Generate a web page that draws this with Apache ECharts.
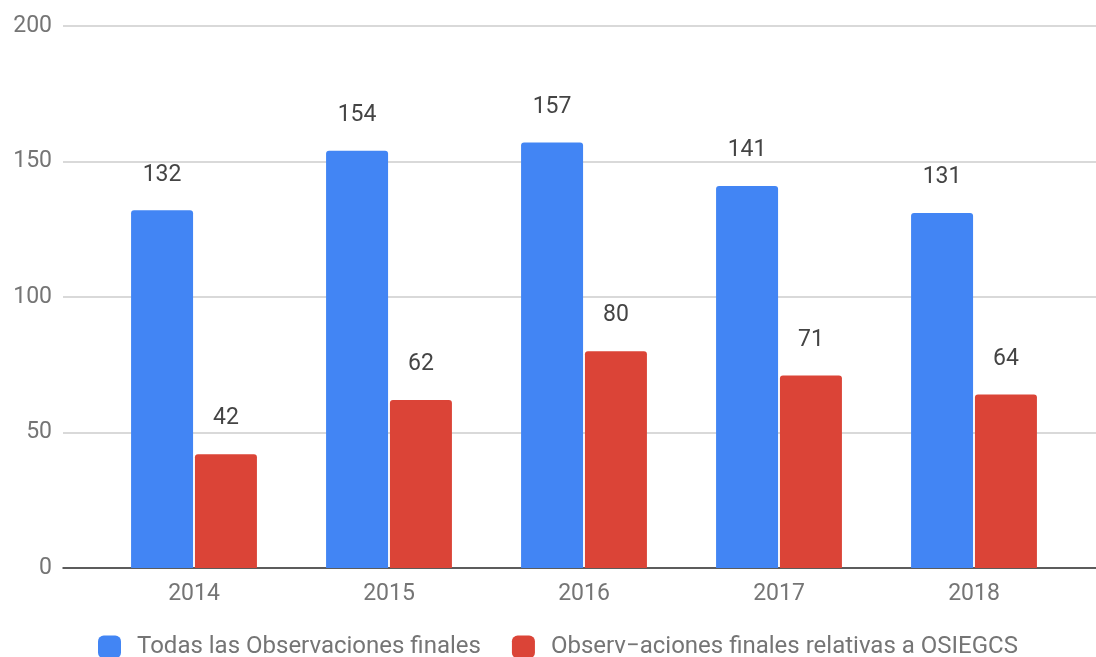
<!DOCTYPE html>
<html>
<head>
<meta charset="utf-8">
<script src="https://cdn.jsdelivr.net/npm/echarts@6/dist/echarts.min.js"></script>
<style>html,body{margin:0;padding:0;background:#fff}#c{width:1096px;height:657px}</style>
</head>
<body>
<div id="c"></div>
<script>
var categories = ['2014', '2015', '2016', '2017', '2018'];
var seriesNames = ['Todas las Observaciones finales', 'Observ\u2212aciones finales relativas a OSIEGCS'];
var todas = [132, 154, 157, 141, 131];
var relativas = [42, 62, 80, 71, 64];
var yTicks = { min: 0, max: 200, interval: 50 };

var chart = echarts.init(document.getElementById('c'), null, { renderer: 'canvas' });
var FONT = 'Roboto';
var labelStyle = {
  show: true, position: 'top', distance: 24,
  color: '#444444', fontFamily: FONT, fontSize: 23
};
chart.setOption({
  animation: false,
  backgroundColor: '#ffffff',
  textStyle: { fontFamily: FONT },
  grid: [
    { left: 63, right: 0, top: 26, bottom: 89 },
    { left: 96.5, right: 24.5, top: 26, bottom: 89 }
  ],
  xAxis: [
    { gridIndex: 0, type: 'value', min: 0, max: 1, show: true,
      axisLine: { show: true, lineStyle: { color: '#333333', width: 1.5 } },
      axisTick: { show: false }, axisLabel: { show: false }, splitLine: { show: false } },
    { gridIndex: 1, type: 'category', data: categories,
      axisLine: { show: false }, axisTick: { show: false },
      axisLabel: { color: '#757575', fontFamily: FONT, fontSize: 23, margin: 15 } }
  ],
  yAxis: [
    { gridIndex: 0, type: 'value', min: yTicks.min, max: yTicks.max, interval: yTicks.interval,
      axisLine: { show: false }, axisTick: { show: false },
      axisLabel: { color: '#757575', fontFamily: FONT, fontSize: 23, margin: 11 },
      splitLine: { lineStyle: { color: '#cccccc', width: 1.5 } } },
    { gridIndex: 1, type: 'value', min: yTicks.min, max: yTicks.max, interval: yTicks.interval, show: false,
      splitLine: { show: false } }
  ],
  legend: {
    left: 98, top: 635, padding: 0, itemWidth: 23, itemHeight: 23, itemGap: 31,
    icon: 'roundRect',
    textStyle: { color: '#757575', fontFamily: FONT, fontSize: 24, padding: [0, 0, 0, 11] },
    data: seriesNames
  },
  series: [
    { name: seriesNames[0], type: 'bar', xAxisIndex: 1, yAxisIndex: 1, data: todas,
      barWidth: 62, barGap: '3%',
      itemStyle: { color: '#4285F4', borderRadius: [3, 3, 0, 0] }, label: labelStyle },
    { name: seriesNames[1], type: 'bar', xAxisIndex: 1, yAxisIndex: 1, data: relativas,
      barWidth: 62, barGap: '3%',
      itemStyle: { color: '#DB4437', borderRadius: [3, 3, 0, 0] }, label: labelStyle }
  ]
});
</script>
</body>
</html>
